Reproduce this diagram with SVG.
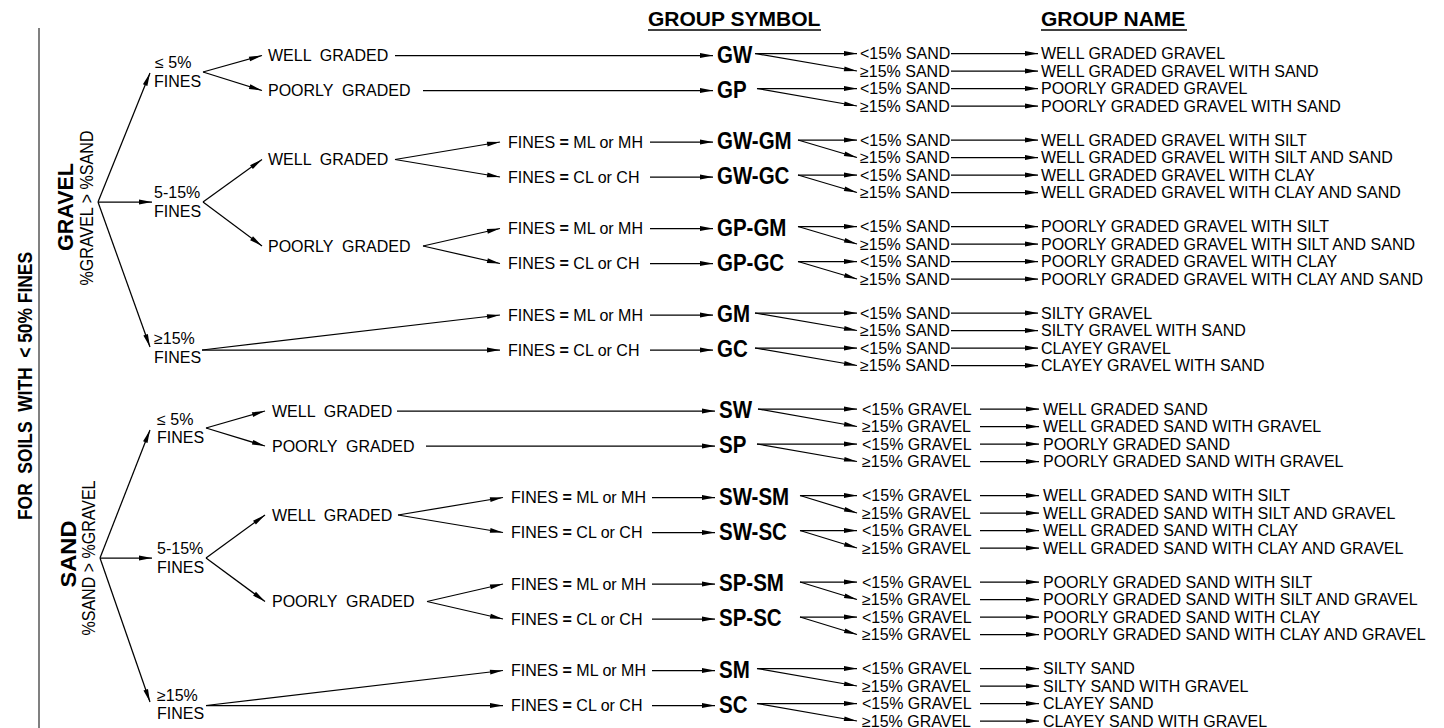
<svg xmlns="http://www.w3.org/2000/svg" width="1444" height="728" viewBox="0 0 1444 728">
<style>
text{font-family:"Liberation Sans",Arial,sans-serif;fill:#000}
.b{transform-box:fill-box;transform-origin:0 100%;transform:scale(1,1.15)}
.t{font-size:16px}
.b{font-size:20.5px;font-weight:bold}
.h{font-size:21px;font-weight:bold}
.v{font-size:22.5px;font-weight:bold}
.r{font-size:17.5px}
.ttl{font-size:21px;font-weight:bold}
.c line{stroke:#000;stroke-width:1.25;fill:none}
.a{marker-end:url(#ah)}
.ul{stroke:#000;stroke-width:1.6}
</style>
<defs>
<marker id="ah" markerUnits="userSpaceOnUse" markerWidth="15" markerHeight="6" refX="13" refY="3" orient="auto" overflow="visible">
<path d="M0,0.6 L13,3 L0,5.4 z" fill="#000"/>
</marker>
</defs>
<rect width="1444" height="728" fill="#fff"/>

<g id="border"><line x1="39" y1="28" x2="39" y2="728" stroke="#808080" stroke-width="2"/></g>
<g id="title"><text class="ttl" xml:space="preserve" transform="translate(31.5,386) rotate(-90)" text-anchor="middle" textLength="268" lengthAdjust="spacingAndGlyphs">FOR  SOILS  WITH  &lt; 50% FINES</text></g>

<g id="hdr-symbol"><text class="h" x="648" y="26">GROUP SYMBOL</text><line class="ul" x1="648" y1="30" x2="821" y2="30"/></g>
<g id="hdr-name"><text class="h" x="1041" y="26">GROUP NAME</text><line class="ul" x1="1041" y1="30" x2="1187" y2="30"/></g>

<!-- GRAVEL -->
<g id="gravel"><text class="v" transform="translate(72.5,207) rotate(-90)" text-anchor="middle" textLength="88" lengthAdjust="spacingAndGlyphs">GRAVEL</text><text class="r" transform="translate(93,208) rotate(-90)" text-anchor="middle" textLength="155" lengthAdjust="spacingAndGlyphs">%GRAVEL &gt; %SAND</text></g>
<g id="g-f1"><text class="t" x="155" y="67.7">≤ 5%</text><text class="t" x="154" y="86.7">FINES</text></g>
<g id="g-f2"><text class="t" x="154" y="197.7">5-15%</text><text class="t" x="154" y="216.7">FINES</text></g>
<g id="g-f3"><text class="t" x="154" y="343.7">≥15%</text><text class="t" x="154" y="362.7">FINES</text></g>
<g id="g-wg0"><text class="t" xml:space="preserve" x="268" y="61.2">WELL  GRADED</text></g>
<g id="g-pg0"><text class="t" xml:space="preserve" x="268" y="96.2">POORLY  GRADED</text></g>
<g id="g-wg1"><text class="t" xml:space="preserve" x="268" y="165.2">WELL  GRADED</text></g>
<g id="g-pg2"><text class="t" xml:space="preserve" x="268" y="251.7">POORLY  GRADED</text></g>
<g id="g-ml1"><text class="t" x="508" y="147.7">FINES <tspan font-weight="bold">=</tspan> ML or MH</text></g>
<g id="g-cl1"><text class="t" x="508" y="182.7">FINES <tspan font-weight="bold">=</tspan> CL or CH</text></g>
<g id="g-ml2"><text class="t" x="508" y="234.2">FINES <tspan font-weight="bold">=</tspan> ML or MH</text></g>
<g id="g-cl2"><text class="t" x="508" y="269.2">FINES <tspan font-weight="bold">=</tspan> CL or CH</text></g>
<g id="g-ml3"><text class="t" x="508" y="320.7">FINES <tspan font-weight="bold">=</tspan> ML or MH</text></g>
<g id="g-cl3"><text class="t" x="508" y="355.7">FINES <tspan font-weight="bold">=</tspan> CL or CH</text></g>

<g id="GW"><text class="b" x="717" y="63.3">GW</text></g>
<g id="GP"><text class="b" x="717" y="98.3">GP</text></g>
<g id="GW-GM"><text class="b" x="717" y="149.8">GW-GM</text></g>
<g id="GW-GC"><text class="b" x="717" y="184.8">GW-GC</text></g>
<g id="GP-GM"><text class="b" x="717" y="236.3">GP-GM</text></g>
<g id="GP-GC"><text class="b" x="717" y="271.3">GP-GC</text></g>
<g id="GM"><text class="b" x="717" y="322.8">GM</text></g>
<g id="GC"><text class="b" x="717" y="357.8">GC</text></g>

<g id="g-sandpct">
<text class="t" x="860" y="59.2">&lt;15% SAND</text><text class="t" x="860" y="76.7">≥15% SAND</text><text class="t" x="860" y="94.2">&lt;15% SAND</text><text class="t" x="860" y="111.7">≥15% SAND</text>
<text class="t" x="860" y="145.7">&lt;15% SAND</text><text class="t" x="860" y="163.2">≥15% SAND</text><text class="t" x="860" y="180.7">&lt;15% SAND</text><text class="t" x="860" y="198.2">≥15% SAND</text>
<text class="t" x="860" y="232.2">&lt;15% SAND</text><text class="t" x="860" y="249.7">≥15% SAND</text><text class="t" x="860" y="267.2">&lt;15% SAND</text><text class="t" x="860" y="284.7">≥15% SAND</text>
<text class="t" x="860" y="318.7">&lt;15% SAND</text><text class="t" x="860" y="336.2">≥15% SAND</text><text class="t" x="860" y="353.7">&lt;15% SAND</text><text class="t" x="860" y="371.2">≥15% SAND</text>
</g>
<g id="g-names">
<text class="t" x="1041" y="59.2">WELL GRADED GRAVEL</text>
<text class="t" x="1041" y="76.7">WELL GRADED GRAVEL WITH SAND</text>
<text class="t" x="1041" y="94.2">POORLY GRADED GRAVEL</text>
<text class="t" x="1041" y="111.7">POORLY GRADED GRAVEL WITH SAND</text>
<text class="t" x="1041" y="145.7">WELL GRADED GRAVEL WITH SILT</text>
<text class="t" x="1041" y="163.2">WELL GRADED GRAVEL WITH SILT AND SAND</text>
<text class="t" x="1041" y="180.7">WELL GRADED GRAVEL WITH CLAY</text>
<text class="t" x="1041" y="198.2">WELL GRADED GRAVEL WITH CLAY AND SAND</text>
<text class="t" x="1041" y="232.2">POORLY GRADED GRAVEL WITH SILT</text>
<text class="t" x="1041" y="249.7">POORLY GRADED GRAVEL WITH SILT AND SAND</text>
<text class="t" x="1041" y="267.2">POORLY GRADED GRAVEL WITH CLAY</text>
<text class="t" x="1041" y="284.7">POORLY GRADED GRAVEL WITH CLAY AND SAND</text>
<text class="t" x="1041" y="318.7">SILTY GRAVEL</text>
<text class="t" x="1041" y="336.2">SILTY GRAVEL WITH SAND</text>
<text class="t" x="1041" y="353.7">CLAYEY GRAVEL</text>
<text class="t" x="1041" y="371.2">CLAYEY GRAVEL WITH SAND</text>
</g>

<!-- SAND -->
<g id="sand"><text class="v" transform="translate(75.5,554) rotate(-90)" text-anchor="middle" textLength="67" lengthAdjust="spacingAndGlyphs">SAND</text><text class="r" transform="translate(95,558) rotate(-90)" text-anchor="middle" textLength="155" lengthAdjust="spacingAndGlyphs">%SAND &gt; %GRAVEL</text></g>
<g id="s-f1"><text class="t" x="157" y="424.7">≤ 5%</text><text class="t" x="157" y="442.7">FINES</text></g>
<g id="s-f2"><text class="t" x="157" y="553.7">5-15%</text><text class="t" x="157" y="572.7">FINES</text></g>
<g id="s-f3"><text class="t" x="157" y="700.7">≥15%</text><text class="t" x="157" y="718.7">FINES</text></g>
<g id="s-wg0"><text class="t" xml:space="preserve" x="272" y="416.7">WELL  GRADED</text></g>
<g id="s-pg0"><text class="t" xml:space="preserve" x="272" y="451.7">POORLY  GRADED</text></g>
<g id="s-wg1"><text class="t" xml:space="preserve" x="272" y="520.7">WELL  GRADED</text></g>
<g id="s-pg2"><text class="t" xml:space="preserve" x="272" y="607.2">POORLY  GRADED</text></g>
<g id="s-ml1"><text class="t" x="511" y="503.2">FINES <tspan font-weight="bold">=</tspan> ML or MH</text></g>
<g id="s-cl1"><text class="t" x="511" y="538.2">FINES <tspan font-weight="bold">=</tspan> CL or CH</text></g>
<g id="s-ml2"><text class="t" x="511" y="589.7">FINES <tspan font-weight="bold">=</tspan> ML or MH</text></g>
<g id="s-cl2"><text class="t" x="511" y="624.7">FINES <tspan font-weight="bold">=</tspan> CL or CH</text></g>
<g id="s-ml3"><text class="t" x="511" y="676.2">FINES <tspan font-weight="bold">=</tspan> ML or MH</text></g>
<g id="s-cl3"><text class="t" x="511" y="711.2">FINES <tspan font-weight="bold">=</tspan> CL or CH</text></g>

<g id="SW"><text class="b" x="719" y="418.8">SW</text></g>
<g id="SP"><text class="b" x="719" y="453.8">SP</text></g>
<g id="SW-SM"><text class="b" x="719" y="505.3">SW-SM</text></g>
<g id="SW-SC"><text class="b" x="719" y="540.3">SW-SC</text></g>
<g id="SP-SM"><text class="b" x="719" y="591.8">SP-SM</text></g>
<g id="SP-SC"><text class="b" x="719" y="626.8">SP-SC</text></g>
<g id="SM"><text class="b" x="719" y="678.3">SM</text></g>
<g id="SC"><text class="b" x="719" y="713.3">SC</text></g>

<g id="s-gravelpct">
<text class="t" x="862" y="414.7">&lt;15% GRAVEL</text><text class="t" x="862" y="432.2">≥15% GRAVEL</text><text class="t" x="862" y="449.7">&lt;15% GRAVEL</text><text class="t" x="862" y="467.2">≥15% GRAVEL</text>
<text class="t" x="862" y="501.2">&lt;15% GRAVEL</text><text class="t" x="862" y="518.7">≥15% GRAVEL</text><text class="t" x="862" y="536.2">&lt;15% GRAVEL</text><text class="t" x="862" y="553.7">≥15% GRAVEL</text>
<text class="t" x="862" y="587.7">&lt;15% GRAVEL</text><text class="t" x="862" y="605.2">≥15% GRAVEL</text><text class="t" x="862" y="622.7">&lt;15% GRAVEL</text><text class="t" x="862" y="640.2">≥15% GRAVEL</text>
<text class="t" x="862" y="674.2">&lt;15% GRAVEL</text><text class="t" x="862" y="691.7">≥15% GRAVEL</text><text class="t" x="862" y="709.2">&lt;15% GRAVEL</text><text class="t" x="862" y="726.7">≥15% GRAVEL</text>
</g>
<g id="s-names">
<text class="t" x="1043" y="414.7">WELL GRADED SAND</text>
<text class="t" x="1043" y="432.2">WELL GRADED SAND WITH GRAVEL</text>
<text class="t" x="1043" y="449.7">POORLY GRADED SAND</text>
<text class="t" x="1043" y="467.2">POORLY GRADED SAND WITH GRAVEL</text>
<text class="t" x="1043" y="501.2">WELL GRADED SAND WITH SILT</text>
<text class="t" x="1043" y="518.7">WELL GRADED SAND WITH SILT AND GRAVEL</text>
<text class="t" x="1043" y="536.2">WELL GRADED SAND WITH CLAY</text>
<text class="t" x="1043" y="553.7">WELL GRADED SAND WITH CLAY AND GRAVEL</text>
<text class="t" x="1043" y="587.7">POORLY GRADED SAND WITH SILT</text>
<text class="t" x="1043" y="605.2">POORLY GRADED SAND WITH SILT AND GRAVEL</text>
<text class="t" x="1043" y="622.7">POORLY GRADED SAND WITH CLAY</text>
<text class="t" x="1043" y="640.2">POORLY GRADED SAND WITH CLAY AND GRAVEL</text>
<text class="t" x="1043" y="674.2">SILTY SAND</text>
<text class="t" x="1043" y="691.7">SILTY SAND WITH GRAVEL</text>
<text class="t" x="1043" y="709.2">CLAYEY SAND</text>
<text class="t" x="1043" y="726.7">CLAYEY SAND WITH GRAVEL</text>
</g>

<g id="connectors" class="c">
<!-- gravel left branches -->
<line class="a" x1="98" y1="202" x2="150" y2="73"/>
<line class="a" x1="98" y1="202" x2="152" y2="202"/>
<line class="a" x1="98" y1="202" x2="150" y2="347"/>
<line class="a" x1="203" y1="72" x2="262" y2="55.5"/>
<line class="a" x1="203" y1="72" x2="262" y2="90.5"/>
<line class="a" x1="203" y1="202" x2="262" y2="159.5"/>
<line class="a" x1="203" y1="202" x2="262" y2="246"/>
<line class="a" x1="202" y1="350" x2="500" y2="315"/>
<line class="a" x1="202" y1="350" x2="500" y2="350"/>
<line class="a" x1="395" y1="159.5" x2="500" y2="142"/>
<line class="a" x1="395" y1="159.5" x2="500" y2="177"/>
<line class="a" x1="423" y1="246" x2="500" y2="228.5"/>
<line class="a" x1="423" y1="246" x2="500" y2="263.5"/>
<!-- gravel to symbols -->
<line class="a" x1="395" y1="55.5" x2="713" y2="55.5"/>
<line class="a" x1="423" y1="90.5" x2="713" y2="90.5"/>
<line class="a" x1="650" y1="142" x2="713" y2="142"/>
<line class="a" x1="650" y1="177" x2="713" y2="177"/>
<line class="a" x1="650" y1="228.5" x2="713" y2="228.5"/>
<line class="a" x1="650" y1="263.5" x2="713" y2="263.5"/>
<line class="a" x1="650" y1="315" x2="713" y2="315"/>
<line class="a" x1="650" y1="350" x2="713" y2="350"/>
<!-- gravel symbol fans -->
<line class="a" x1="755" y1="53.5" x2="857" y2="53.5"/><line class="a" x1="755" y1="53.5" x2="857" y2="71"/>
<line class="a" x1="757" y1="88.5" x2="857" y2="88.5"/><line class="a" x1="757" y1="88.5" x2="857" y2="106"/>
<line class="a" x1="798" y1="140" x2="857" y2="140"/><line class="a" x1="798" y1="140" x2="857" y2="157.5"/>
<line class="a" x1="798" y1="175" x2="857" y2="175"/><line class="a" x1="798" y1="175" x2="857" y2="192.5"/>
<line class="a" x1="798" y1="226.5" x2="857" y2="226.5"/><line class="a" x1="798" y1="226.5" x2="857" y2="244"/>
<line class="a" x1="798" y1="261.5" x2="857" y2="261.5"/><line class="a" x1="798" y1="261.5" x2="857" y2="279"/>
<line class="a" x1="755" y1="313" x2="857" y2="313"/><line class="a" x1="755" y1="313" x2="857" y2="330.5"/>
<line class="a" x1="755" y1="348" x2="857" y2="348"/><line class="a" x1="755" y1="348" x2="857" y2="365.5"/>
<!-- gravel rows to names -->
<line class="a" x1="951" y1="53.5" x2="1038" y2="53.5"/><line class="a" x1="951" y1="71" x2="1038" y2="71"/>
<line class="a" x1="951" y1="88.5" x2="1038" y2="88.5"/><line class="a" x1="951" y1="106" x2="1038" y2="106"/>
<line class="a" x1="951" y1="140" x2="1038" y2="140"/><line class="a" x1="951" y1="157.5" x2="1038" y2="157.5"/>
<line class="a" x1="951" y1="175" x2="1038" y2="175"/><line class="a" x1="951" y1="192.5" x2="1038" y2="192.5"/>
<line class="a" x1="951" y1="226.5" x2="1038" y2="226.5"/><line class="a" x1="951" y1="244" x2="1038" y2="244"/>
<line class="a" x1="951" y1="261.5" x2="1038" y2="261.5"/><line class="a" x1="951" y1="279" x2="1038" y2="279"/>
<line class="a" x1="951" y1="313" x2="1038" y2="313"/><line class="a" x1="951" y1="330.5" x2="1038" y2="330.5"/>
<line class="a" x1="951" y1="348" x2="1038" y2="348"/><line class="a" x1="951" y1="365.5" x2="1038" y2="365.5"/>

<!-- sand left branches -->
<line class="a" x1="100" y1="558" x2="150" y2="430"/>
<line class="a" x1="100" y1="558" x2="152" y2="558"/>
<line class="a" x1="100" y1="558" x2="150" y2="702"/>
<line class="a" x1="206" y1="428" x2="265" y2="411"/>
<line class="a" x1="206" y1="428" x2="265" y2="446"/>
<line class="a" x1="206" y1="558" x2="265" y2="515"/>
<line class="a" x1="206" y1="558" x2="265" y2="601.5"/>
<line class="a" x1="206" y1="705.5" x2="503" y2="670.5"/>
<line class="a" x1="206" y1="705.5" x2="503" y2="705.5"/>
<line class="a" x1="398" y1="515" x2="503" y2="497.5"/>
<line class="a" x1="398" y1="515" x2="503" y2="532.5"/>
<line class="a" x1="427" y1="601.5" x2="503" y2="584"/>
<line class="a" x1="427" y1="601.5" x2="503" y2="619"/>
<!-- sand to symbols -->
<line class="a" x1="397" y1="411" x2="715" y2="411"/>
<line class="a" x1="426" y1="446" x2="715" y2="446"/>
<line class="a" x1="652" y1="497.5" x2="715" y2="497.5"/>
<line class="a" x1="652" y1="532.5" x2="715" y2="532.5"/>
<line class="a" x1="652" y1="584" x2="715" y2="584"/>
<line class="a" x1="652" y1="619" x2="715" y2="619"/>
<line class="a" x1="652" y1="670.5" x2="715" y2="670.5"/>
<line class="a" x1="652" y1="705.5" x2="715" y2="705.5"/>
<!-- sand symbol fans -->
<line class="a" x1="758" y1="409" x2="857" y2="409"/><line class="a" x1="758" y1="409" x2="857" y2="426.5"/>
<line class="a" x1="757" y1="444" x2="857" y2="444"/><line class="a" x1="757" y1="444" x2="857" y2="461.5"/>
<line class="a" x1="800" y1="495.5" x2="857" y2="495.5"/><line class="a" x1="800" y1="495.5" x2="857" y2="513"/>
<line class="a" x1="800" y1="530.5" x2="857" y2="530.5"/><line class="a" x1="800" y1="530.5" x2="857" y2="548"/>
<line class="a" x1="800" y1="582" x2="857" y2="582"/><line class="a" x1="800" y1="582" x2="857" y2="599.5"/>
<line class="a" x1="800" y1="617" x2="857" y2="617"/><line class="a" x1="800" y1="617" x2="857" y2="634.5"/>
<line class="a" x1="757" y1="668.5" x2="857" y2="668.5"/><line class="a" x1="757" y1="668.5" x2="857" y2="686"/>
<line class="a" x1="757" y1="703.5" x2="857" y2="703.5"/><line class="a" x1="757" y1="703.5" x2="857" y2="721"/>
<!-- sand rows to names -->
<line class="a" x1="980" y1="409" x2="1039" y2="409"/><line class="a" x1="980" y1="426.5" x2="1039" y2="426.5"/>
<line class="a" x1="980" y1="444" x2="1039" y2="444"/><line class="a" x1="980" y1="461.5" x2="1039" y2="461.5"/>
<line class="a" x1="980" y1="495.5" x2="1039" y2="495.5"/><line class="a" x1="980" y1="513" x2="1039" y2="513"/>
<line class="a" x1="980" y1="530.5" x2="1039" y2="530.5"/><line class="a" x1="980" y1="548" x2="1039" y2="548"/>
<line class="a" x1="980" y1="582" x2="1039" y2="582"/><line class="a" x1="980" y1="599.5" x2="1039" y2="599.5"/>
<line class="a" x1="980" y1="617" x2="1039" y2="617"/><line class="a" x1="980" y1="634.5" x2="1039" y2="634.5"/>
<line class="a" x1="980" y1="668.5" x2="1039" y2="668.5"/><line class="a" x1="980" y1="686" x2="1039" y2="686"/>
<line class="a" x1="980" y1="703.5" x2="1039" y2="703.5"/><line class="a" x1="980" y1="721" x2="1039" y2="721"/>
</g>
</svg>
